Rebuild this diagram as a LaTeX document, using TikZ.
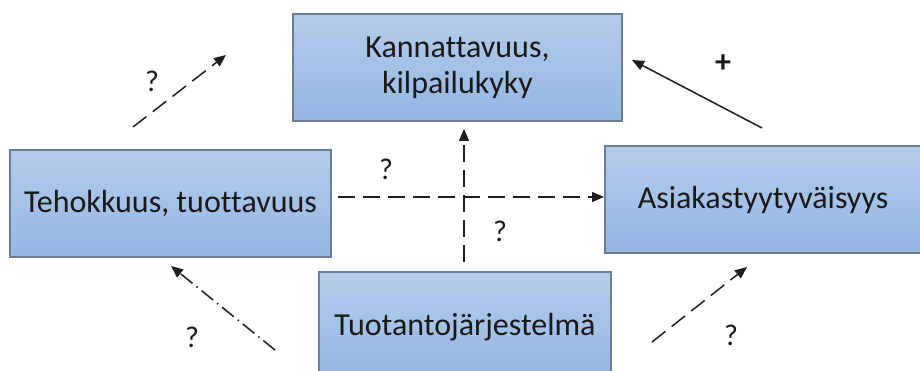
\documentclass[tikz,border=0pt]{standalone}
\usepackage{fontspec}
\setmainfont[Ligatures=NoCommon]{Carlito}
\usetikzlibrary{arrows.meta,positioning}
\definecolor{BoxTop}{RGB}{180,204,235}
\definecolor{BoxBottom}{RGB}{148,182,226}
\definecolor{BoxEdge}{RGB}{105,125,150}
\definecolor{ArrowGray}{RGB}{30,30,30}

\begin{document}
\begin{tikzpicture}[
    x=1pt, y=-1pt,
    >={Triangle[length=12pt,width=10pt]},
    box/.style={rectangle, draw=BoxEdge, line width=1.6pt,
                top color=BoxTop, bottom color=BoxBottom,
                align=center, font=\fontsize{32}{36}\selectfont, text=black!90},
    arr/.style={->, line width=1.5pt, color=ArrowGray},
    dasharr/.style={arr, dash pattern=on 17pt off 8pt},
    dotarr/.style={arr, dash pattern=on 15pt off 5pt on 1.5pt off 5pt},
    sign/.style={font=\fontsize{30}{32}\selectfont, text=black!90},
]

\useasboundingbox (0,0) rectangle (920,371);
\clip (0,0) rectangle (920,371);

% ── Boxes ──
\node[box, minimum width=329pt, minimum height=107pt] (profit) at (457.5,67.5)
    {Kannattavuus,\\kilpailukyky};
\node[box, minimum width=321pt, minimum height=107pt] (eff) at (170.5,203.5)
    {Tehokkuus, tuottavuus};
\node[box, minimum width=316pt, minimum height=107pt] (cust) at (763,199.5)
    {Asiakastyytyväisyys};
\node[box, minimum width=292pt, minimum height=110pt] (prod) at (465,327)
    {Tuotantojärjestelmä};

% ── Free arrow ends ──
\coordinate (ulA) at (133,127);  \coordinate (ulB) at (226,55);
\coordinate (urA) at (762,128);  \coordinate (urB) at (632,60);
\coordinate (hA)  at (338,197);  \coordinate (hB)  at (604,197);
\coordinate (vA)  at (464,262);  \coordinate (vB)  at (464,129);
\coordinate (llA) at (275,350);  \coordinate (llB) at (171,266);
\coordinate (lrA) at (652,342);  \coordinate (lrB) at (747,267);

% ── Arrows ──
\draw[dasharr] (ulA) -- (ulB);
\draw[arr] (urA) -- (urB);
\draw[dasharr] (hA) -- (hB);
\draw[dasharr] (vA) -- (vB);
\draw[dotarr] (llA) -- (llB);
\draw[dasharr] (lrA) -- (lrB);

% ── Labels ──
\node[sign] (qUL) at (152,81) {?};
\node[sign, font=\fontsize{32}{32}\selectfont\bfseries] (plus) at (723,64) {+};
\node[sign] (qH)  at (386,169) {?};
\node[sign] (qV)  at (500,231) {?};
\node[sign] (qLL) at (192,337) {?};
\node[sign] (qLR) at (731,335) {?};

\end{tikzpicture}
\end{document}
